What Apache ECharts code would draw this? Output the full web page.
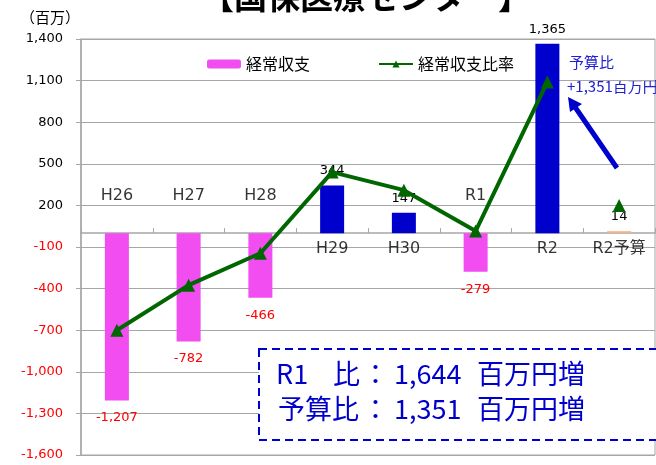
<!DOCTYPE html>
<html>
<head>
<meta charset="utf-8">
<script src="https://cdn.jsdelivr.net/npm/echarts@6/dist/echarts.min.js"></script>
<style>
  html, body { margin: 0; padding: 0; background: #fff; }
  #chart { width: 656px; height: 465px; }
</style>
</head>
<body>
<div id="chart"></div>
<script>
// 年度ごとの経常収支（百万円）と経常収支比率（棒グラフ軸上の位置で読み取り）
const categories = ["H26", "H27", "H28", "H29", "H30", "R1", "R2", "R2予算"];
const balance = [-1207, -782, -466, 344, 147, -279, 1365, 14];
const ratioLine = [-700, -375, -145, 440, 310, 15, 1090, "-"];
const ratioBudget = ["-", "-", "-", "-", "-", "-", "-", 200];
const yTicks = { min: -1600, max: 1400, step: 300 };

const JP = '"Noto Sans CJK JP", "DejaVu Sans", sans-serif';
const NUM = '"DejaVu Sans", "Noto Sans CJK JP", sans-serif';
const BLUE = "#0000cc";

function barColor(v, i) {
  if (categories[i] === "R2予算") return "#f4b183";
  return v < 0 ? "#f24df0" : BLUE;
}

function fmt(v) {
  return v.toLocaleString("en-US");
}

// 点線枠内の文字（部品ごとに配置）
function boxText(text, x, y) {
  return {
    type: "text", z: 31, x: x, y: y,
    style: { text: text, fontSize: 27, fontFamily: JP, fill: BLUE, verticalAlign: "middle" }
  };
}

const chart = echarts.init(document.getElementById("chart"));

chart.setOption({
  animation: false,
  grid: {
    left: 81, right: 1, top: 39, bottom: 10,
    show: true, borderColor: "#a6a6a6", borderWidth: 1
  },
  legend: {
    left: 207, top: 56, padding: 0,
    itemWidth: 34, itemHeight: 9, itemGap: 68,
    textStyle: { fontFamily: JP, fontSize: 16, color: "#000" },
    data: ["経常収支", "経常収支比率"]
  },
  xAxis: {
    type: "category",
    data: categories,
    axisLine: { onZero: true, lineStyle: { color: "#a6a6a6", width: 1.5 } },
    axisTick: { show: true, inside: true, length: 5, lineStyle: { color: "#a6a6a6" } },
    axisLabel: { show: false },
    splitLine: { show: false }
  },
  yAxis: {
    type: "value",
    min: yTicks.min, max: yTicks.max, interval: yTicks.step,
    axisLine: { show: true, lineStyle: { color: "#a6a6a6", width: 1.5 } },
    axisTick: { show: true, length: 5, lineStyle: { color: "#a6a6a6" } },
    splitLine: { lineStyle: { color: "#a6a6a6", width: 1 } },
    axisLabel: {
      fontFamily: NUM, fontSize: 13, margin: 18,
      color: v => (v < 0 ? "#ff0000" : "#000"),
      formatter: v => fmt(v)
    }
  },
  series: [
    {
      name: "経常収支",
      type: "bar",
      barWidth: 24,
      itemStyle: { color: "#f24df0" },
      data: balance.map((v, i) => ({
        value: v,
        itemStyle: { color: barColor(v, i) },
        label: {
          show: true,
          position: v < 0 ? "bottom" : "top",
          distance: v < 0 ? 11 : 8,
          color: v < 0 ? "#ff0000" : "#000",
          fontFamily: NUM, fontSize: 13,
          formatter: p => fmt(p.value)
        }
      }))
    },
    {
      // 軸ラベル（棒の向きと反対側に表示）
      name: "cat",
      type: "scatter",
      symbolSize: 0,
      silent: true,
      z: 5,
      data: balance.map((v, i) => ({
        value: 0,
        label: {
          show: true,
          position: v < 0 ? "top" : "bottom",
          distance: v < 0 ? 29 : 8,
          formatter: categories[i],
          color: "#000",
          fontFamily: NUM, fontSize: 16
        }
      }))
    },
    {
      name: "経常収支比率",
      type: "line",
      data: ratioLine,
      symbol: "triangle",
      symbolSize: 13,
      z: 10,
      lineStyle: { color: "#006600", width: 4 },
      itemStyle: { color: "#006600" }
    },
    {
      name: "経常収支比率",
      type: "line",
      data: ratioBudget,
      symbol: "triangle",
      symbolSize: 13,
      z: 10,
      lineStyle: { color: "#006600", width: 4 },
      itemStyle: { color: "#006600" }
    }
  ],
  graphic: [
    {
      type: "text", x: 20, y: 17,
      style: { text: "（百万）", fontSize: 15, fontFamily: JP, fill: "#000", verticalAlign: "middle" }
    },
    {
      type: "text", x: 366, y: -20,
      style: {
        text: "【国保医療センター】", fontSize: 33, fontWeight: "bold", fontFamily: JP,
        fill: "#000", align: "center"
      }
    },
    // 予算比 注記と矢印
    {
      type: "text", x: 569, y: 62,
      style: { text: "予算比", fontSize: 15, fontFamily: JP, fill: "#2020d0", verticalAlign: "middle" }
    },
    {
      type: "text", x: 567, y: 86,
      style: { text: "+1,351百万円", fontSize: 15, fontFamily: JP, fill: "#2020d0", verticalAlign: "middle" }
    },
    {
      type: "line", z: 20,
      shape: { x1: 617, y1: 168, x2: 575, y2: 107 },
      style: { stroke: BLUE, lineWidth: 5 }
    },
    {
      type: "polygon", z: 20,
      shape: { points: [[568, 97], [582, 104], [570, 112]] },
      style: { fill: BLUE }
    },
    // 点線枠の説明
    {
      type: "rect", z: 30,
      shape: { x: 259, y: 349, width: 420, height: 91 },
      style: { fill: "#fff", stroke: BLUE, lineWidth: 2, lineDash: [8, 5] }
    },
    boxText("R1", 276, 374),
    boxText("比", 333, 374),
    boxText("：", 362, 374),
    boxText("1,644", 394, 374),
    boxText("百万円増", 477, 374),
    boxText("予算比", 278, 409),
    boxText("：", 362, 409),
    boxText("1,351", 394, 409),
    boxText("百万円増", 477, 409)
  ]
});
</script>
</body>
</html>
